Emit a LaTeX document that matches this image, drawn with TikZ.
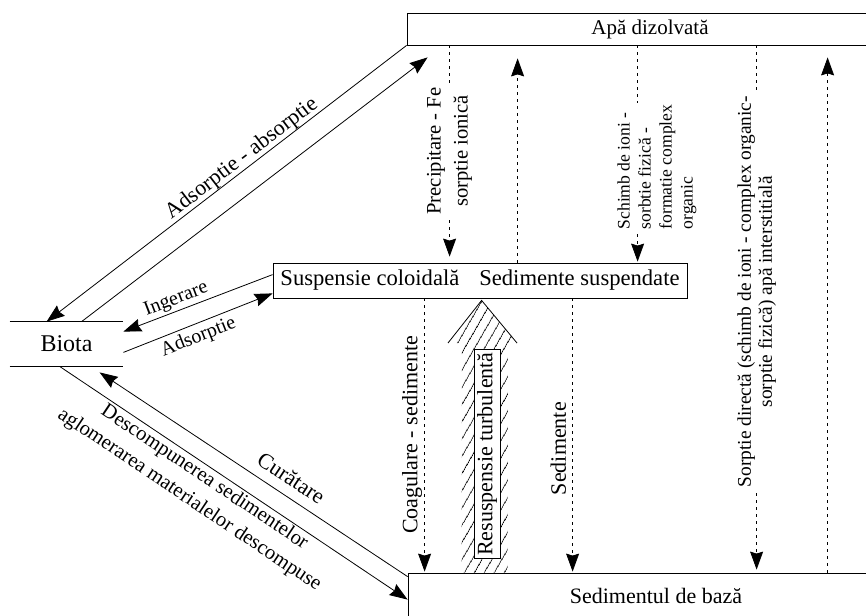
\documentclass[tikz,border=0pt]{standalone}
\usepackage{fontspec}
\setmainfont{Liberation Serif}
\usetikzlibrary{arrows.meta, calc, patterns.meta}

\tikzset{
  arr/.style={-{Stealth[length=9pt,width=6.5pt,inset=1pt]}, line width=0.4pt},
  dasharr/.style={arr, dash pattern=on 1.5pt off 2pt},
  box/.style={draw, line width=0.4pt, inner sep=0pt},
  lbl/.style={font=\fontsize{11}{13}\selectfont},
  rot/.style={lbl, rotate=90},
}

\begin{document}
\begin{tikzpicture}[x=0.5pt, y=-0.5pt]
    \clip (0,0) rectangle (866,615);

    % Compartments
    \node[box, minimum width=243pt, minimum height=16pt, font=\fontsize{10.5}{12}\selectfont] (apa) at (650,29) {Apă dizolvată};
    \node[minimum width=56.5pt, minimum height=22pt, font=\fontsize{12}{14}\selectfont] (biota) at (66.5,344) {Biota};
    \draw[line width=0.4pt] (biota.north west) -- (biota.north east);
    \draw[line width=0.4pt] (biota.south west) -- (biota.south east);
    \node[box, minimum width=207pt, minimum height=17.5pt, font=\fontsize{11.3}{13}\selectfont] (susp) at (480,280.5) {Suspensie coloidală\hspace{10pt}Sedimente suspendate};
    \node[box, minimum width=248pt, minimum height=23pt, font=\fontsize{11}{13}\selectfont] (sed) at (656,596) {Sedimentul de bază};

    % Biota - Apa dizolvata
    \draw[arr] (apa.south west) -- node[lbl, sloped, above, pos=0.44, inner sep=0pt] {Adsorptie - absorptie} ($(biota.north west)+(37,0)$);
    \draw[arr] ($(biota.north west)+(72,0)$) -- ($(apa.south west)+(21,12)$);

    % Biota - Suspensie
    \draw[arr] ($(susp.north west)+(0,12)$) -- node[lbl, sloped, above, pos=0.62, inner sep=1pt, font=\fontsize{10}{12}\selectfont] {Ingerare} ($(biota.north east)+(0,10)$);
    \draw[arr] ($(biota.south east)+(0,-14)$) -- node[lbl, sloped, below, pos=0.47, inner sep=2pt, font=\fontsize{10}{12}\selectfont] {Adsorptie} ($(susp.south west)+(0,-5)$);

    % Biota - Sedimentul
    \draw[arr] ($(sed.north west)+(0,4)$) -- node[lbl, sloped, above, pos=0.41, inner sep=5pt] {Curătare} ($(biota.south west)+(90,6)$);
    \draw[arr] ($(biota.south west)+(50,0)$) -- node[lbl, sloped, below, pos=0.435, inner sep=1pt, align=center, font=\fontsize{10.3}{13.5}\selectfont] {Descompunerea sedimentelor\\aglomerarea materialelor descompuse} ($(sed.north west)+(0,27)$);

    % Apa - Suspensie
    \draw[dasharr] ($(apa.south west)+(43,0)$) -- node[rot, fill=white, pos=0.5, inner sep=1pt, align=center, font=\fontsize{10.3}{13.5}\selectfont] {Precipitare - Fe\\sorptie ionică} ($(susp.north west)+(177,-6)$);
    \draw[dasharr] ($(susp.north west)+(245,0)$) -- ($(apa.south west)+(111,13)$);
    \draw[dasharr] ($(apa.south west)+(231,0)$) -- ($(susp.north west)+(365,-1)$);
    \node[rot, fill=white, inner sep=1pt, align=left, font=\fontsize{8.8}{10.5}\selectfont] (schimb) at (657,167) {Schimb de ioni -\\sorbtie fizică -\\formatie complex\\organic};

    % Apa - Sedimentul
    \draw[dasharr] ($(apa.south west)+(350,0)$) -- node[rot, fill=white, pos=0.47, inner sep=1pt, align=center, font=\fontsize{9.7}{10.5}\selectfont] {Sorptie directă (schimb de ioni - complex organic-\\sorptie fizică) apă interstitială} ($(sed.north west)+(349,-3)$);
    \draw[dasharr] ($(sed.north west)+(420,0)$) -- ($(apa.south west)+(421,12)$);

    % Suspensie - Sedimentul
    \draw[dasharr] ($(susp.south west)+(152,0)$) -- node[rot, above, pos=0.5, inner sep=1pt] {Coagulare - sedimente} ($(sed.north west)+(17,-1)$);
    \draw[dasharr] ($(susp.south west)+(300,0)$) -- node[rot, above, pos=0.55, inner sep=3pt] {Sedimente} ($(sed.north west)+(165,-1)$);

    % Resuspensie turbulenta
    \coordinate (tip) at ($(susp.south west)+(209,2)$);
    \fill[pattern={Lines[angle=60, distance=4pt, line width=0.4pt]}] ($(sed.north west)+(54,0)$) -- (462,343) -- (448,343) -- (tip) -- (517,343) -- (508,343) -- ($(sed.north west)+(100,0)$) -- cycle;
    \draw[line width=0.4pt] (448,343) -- (tip) -- (517,343);
    \node[rot, draw, fill=white, inner sep=1.5pt, line width=0.3pt] (resusp) at (487,454) {Resuspensie turbulentă};
\end{tikzpicture}
\end{document}
